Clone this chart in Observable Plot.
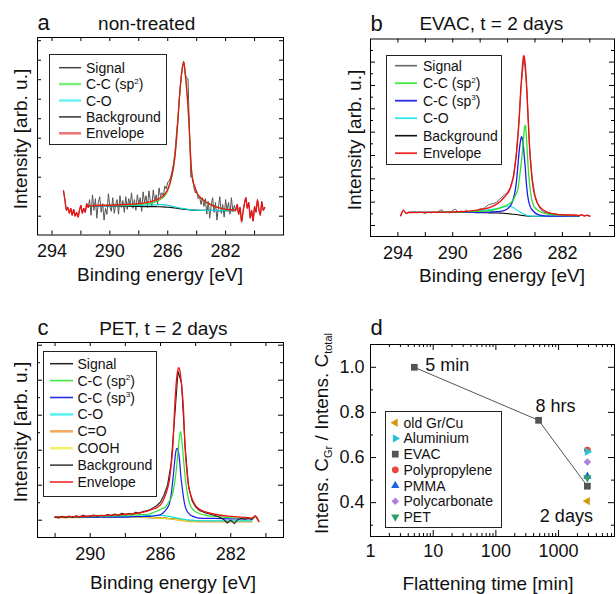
<!DOCTYPE html>
<html><head><meta charset="utf-8">
<script src="https://cdn.jsdelivr.net/npm/d3@7"></script>
<script src="https://cdn.jsdelivr.net/npm/@observablehq/plot@0.6"></script>
<style>
body{margin:0;background:#fff;}
#root{position:relative;width:616px;height:594px;overflow:hidden;background:#fff;}
#root svg{position:absolute;}
</style></head><body><div id="root"></div>
<script>
const FONT = '"Liberation Sans", Arial, Helvetica, sans-serif';

// ---------- Panel a: non-treated ----------
const sigA_start = 293.2, sigA_step = -0.1;
const sigA = [
 1.30,0.80,0.30,0.45,0.15,0.40,0.05,0.35,0.00,0.20,
 -0.05,0.30,0.55,0.15,0.40,0.20,0.65,0.45,0.85,0.05,
 1.10,0.30,0.90,-0.10,0.70,1.00,0.20,0.65,-0.20,0.40,
 0.10,1.15,0.50,0.25,0.95,0.15,0.60,0.85,0.10,1.05,
 0.45,0.80,0.20,1.00,0.35,0.90,0.55,1.20,0.40,0.85,
 0.30,1.10,0.60,0.95,0.25,1.25,0.70,1.05,0.45,1.30,
 0.80,0.50,1.35,0.75,1.10,0.60,1.45,1.00,1.20,1.05,
 1.55,1.40,1.75,1.80,2.00,2.30,2.70,3.30,4.20,5.00,
 6.00,6.90,7.60,7.95,7.30,7.10,7.05,4.40,2.00,2.10,
 1.50,1.20,1.30,0.90,1.00,0.60,0.95,0.50,0.90,0.10,
 0.75,-0.10,0.55,0.95,0.20,0.70,-0.20,0.45,1.00,0.15,
 0.60,-0.05,0.85,0.30,0.70,0.10,0.95,0.25,0.55,0.30,
 0.60,0.10,0.45,-0.30,0.20,0.65,0.95,0.40,0.70,-0.10,
 0.30,-0.25,0.50,0.20,0.85,0.35,0.05,0.75,0.30,0.45];
const fitA_E = [291.45,291,290,289,288,287.5,287,286.6,286.3,286,285.85,285.7,285.6,285.5,285.4,285.3,285.2,285.1,285.0,284.89,284.8,284.7,284.6,284.5,284.4,284.3,284.15,284.0,283.8,283.5,283.0,282.5,282.0,281.32];
const envA = [0.53,0.55,0.57,0.60,0.65,0.70,0.78,0.90,1.05,1.38,1.70,2.15,2.55,3.10,3.90,4.90,6.00,6.90,7.55,7.90,7.40,6.60,5.65,4.30,2.80,1.95,1.55,1.22,1.00,0.80,0.58,0.44,0.35,0.31];
const sp2A = [0.53,0.55,0.56,0.58,0.60,0.64,0.70,0.82,0.97,1.30,1.64,2.08,2.47,3.04,3.87,4.88,5.98,6.89,7.54,7.89,7.39,6.59,5.64,4.29,2.79,1.94,1.54,1.21,0.99,0.79,0.57,0.44,0.35,0.31];
const coA = [0.53,0.53,0.53,0.54,0.56,0.57,0.58,0.59,0.59,0.56,0.54,0.51,0.49,0.48,0.46,0.44,0.42,0.41,0.40,0.39,0.38,0.37,0.35,0.34,0.33,0.32,0.31,0.31,0.30,0.30,0.30,0.29,0.29,0.29];
const bgA = [0.53,0.53,0.52,0.51,0.50,0.495,0.49,0.485,0.475,0.46,0.45,0.44,0.43,0.42,0.41,0.40,0.39,0.38,0.37,0.36,0.35,0.345,0.34,0.33,0.32,0.315,0.31,0.305,0.30,0.30,0.295,0.29,0.29,0.29];
const xTicksA = [294,292,290,288,286,284,282,280];
const xLabelsA = [294,290,286,282];
const yTicksA = [0,1,2,3,4,5,6,7,8,9];

// ---------- Panel b: EVAC, 2 days ----------
const sigB_start = 293.8, sigB_step = -0.2;
const sigB = [
 0.42,0.66,0.52,0.58,0.55,0.60,0.54,0.58,0.55,0.52,
 0.57,0.54,0.58,0.55,0.62,0.68,0.55,0.60,0.53,0.66,
 0.70,0.57,0.62,0.58,0.66,0.55,0.62,0.64,0.66,0.72,
 0.70,0.80,0.88,0.92,0.95,1.00,1.12,1.22,1.33,1.42,
 1.62,2.05,2.85,4.20,6.05,7.25,5.90,3.40,2.00,1.30,
 0.92,0.70,0.58,0.55,0.52,0.50,0.52,0.48,0.46,0.45,
 0.47,0.44,0.46,0.42,0.45,0.40,0.46,0.41,0.44,0.40];
const fitB_E = [293.2,291,289.5,288.5,288,287.5,287.2,286.8,286.5,286.25,286.0,285.85,285.7,285.55,285.45,285.35,285.25,285.15,285.05,284.98,284.9,284.83,284.75,284.7,284.65,284.55,284.45,284.35,284.25,284.1,283.95,283.8,283.55,283.3,283.0,282.5,282.0,281.0,280.8];
const envB = [0.56,0.57,0.59,0.64,0.68,0.74,0.80,0.92,1.05,1.21,1.38,1.53,1.80,2.15,2.60,3.10,3.80,4.60,5.70,6.30,6.95,7.29,7.10,6.80,6.40,5.20,3.95,2.90,2.21,1.50,1.15,0.93,0.74,0.63,0.55,0.49,0.46,0.44,0.43];
const sp2B = [0.56,0.57,0.58,0.60,0.61,0.63,0.64,0.70,0.76,0.82,0.89,0.94,1.02,1.13,1.25,1.40,1.55,1.95,2.45,2.80,3.30,3.80,4.25,4.30,4.00,3.00,2.10,1.55,1.15,0.85,0.74,0.65,0.57,0.52,0.48,0.46,0.44,0.42,0.42];
const sp3B = [0.56,0.56,0.56,0.56,0.56,0.57,0.58,0.59,0.61,0.64,0.72,0.80,0.94,1.20,1.48,1.90,2.55,3.20,3.65,3.81,3.65,3.30,2.75,2.40,1.95,1.35,1.00,0.82,0.70,0.60,0.52,0.48,0.43,0.41,0.40,0.40,0.40,0.40,0.40];
const coB = [0.56,0.57,0.58,0.60,0.63,0.66,0.69,0.73,0.77,0.80,0.82,0.83,0.80,0.76,0.72,0.68,0.64,0.60,0.57,0.54,0.52,0.50,0.47,0.46,0.45,0.43,0.42,0.41,0.40,0.40,0.40,0.40,0.40,0.40,0.40,0.40,0.40,0.40,0.40];
const bgB = [0.56,0.56,0.56,0.555,0.55,0.545,0.54,0.535,0.53,0.52,0.51,0.50,0.49,0.48,0.475,0.47,0.46,0.45,0.44,0.435,0.43,0.425,0.42,0.415,0.41,0.405,0.40,0.40,0.40,0.40,0.40,0.40,0.40,0.40,0.40,0.40,0.40,0.40,0.40];
const xTicksB = [294,292,290,288,286,284,282,280];
const xLabelsB = [294,290,286,282];
const yMajorB = [0,1,2,3,4,5,6,7];
const yMinorB = [0.5,1.5,2.5,3.5,4.5,5.5,6.5,7.5];

// ---------- Panel c: PET, 2 days ----------
const sigC_start = 292.0, sigC_step = -0.2;
const sigC = [
 0.10,0.06,0.11,0.07,0.12,0.08,0.13,0.09,0.14,0.10,
 0.12,0.15,0.11,0.14,0.12,0.16,0.13,0.18,0.14,0.20,
 0.16,0.19,0.17,0.23,0.20,0.25,0.27,0.30,0.36,0.42,
 0.52,0.72,1.00,1.60,2.90,4.25,3.90,2.10,0.95,0.55,
 0.38,0.28,0.24,0.20,0.18,0.15,0.12,0.08,0.02,-0.08,
 0.00,-0.10,0.02,0.05,0.03,0.06,0.02,0.12,-0.04];
const fitC_E = [292.0,291,290,289,288.5,288,287.5,287.1,286.7,286.4,286.15,285.95,285.75,285.6,285.5,285.4,285.3,285.2,285.1,285.03,284.96,284.9,284.85,284.78,284.7,284.6,284.5,284.4,284.3,284.15,284.0,283.8,283.4,282.9,282.0,281.0,280.8];
const envC = [0.09,0.10,0.12,0.14,0.15,0.17,0.19,0.22,0.27,0.32,0.38,0.47,0.68,0.90,1.13,1.55,2.08,3.15,3.95,4.25,4.36,4.28,4.10,3.75,3.25,2.08,1.40,0.98,0.75,0.55,0.42,0.32,0.23,0.17,0.11,0.07,0.06];
const sp2C = [0.08,0.09,0.10,0.12,0.13,0.14,0.15,0.16,0.17,0.22,0.27,0.32,0.37,0.46,0.55,0.62,0.78,1.05,1.45,1.80,2.20,2.45,2.53,2.25,1.80,1.25,0.85,0.58,0.42,0.30,0.24,0.19,0.14,0.11,0.07,0.05,0.05];
const sp3C = [0.08,0.08,0.08,0.09,0.09,0.09,0.10,0.10,0.11,0.12,0.14,0.17,0.26,0.36,0.46,0.70,1.13,1.65,2.02,2.05,1.90,1.62,1.30,1.00,0.68,0.40,0.27,0.20,0.15,0.11,0.08,0.06,0.05,0.05,0.04,0.04,0.04];
const coC = [0.08,0.09,0.09,0.10,0.10,0.11,0.11,0.12,0.13,0.13,0.14,0.14,0.13,0.12,0.11,0.10,0.09,0.08,0.07,0.06,0.05,0.05,0.04,0.03,0.03,0.02,0.01,0.01,0.00,0.00,-0.01,-0.01,-0.02,-0.02,-0.02,-0.02,-0.02];
const cdoC = [0.07,0.07,0.08,0.08,0.09,0.09,0.09,0.08,0.08,0.07,0.06,0.06,0.05,0.04,0.04,0.03,0.02,0.02,0.01,0.01,0.00,0.00,-0.01,-0.01,-0.02,-0.02,-0.03,-0.03,-0.04,-0.04,-0.04,-0.05,-0.05,-0.05,-0.05,-0.05,-0.05];
const coohC = [0.07,0.08,0.09,0.10,0.10,0.09,0.08,0.08,0.07,0.07,0.06,0.06,0.05,0.05,0.04,0.04,0.03,0.03,0.02,0.02,0.01,0.01,0.01,0.00,0.00,-0.01,-0.01,-0.02,-0.02,-0.02,-0.03,-0.03,-0.03,-0.03,-0.03,-0.03,-0.03];
const bgC = [0.08,0.08,0.08,0.08,0.08,0.08,0.08,0.08,0.075,0.07,0.07,0.065,0.06,0.055,0.05,0.045,0.04,0.035,0.03,0.025,0.02,0.015,0.01,0.005,0.0,-0.005,-0.01,-0.015,-0.02,-0.02,-0.025,-0.03,-0.03,-0.03,-0.03,-0.03,-0.03];
const xTicksC = [292,290,288,286,284,282,280];
const xLabelsC = [290,286,282];
const yMajorC = [0,1,2,3,4,5];
const yMinorC = [0.5,1.5,2.5,3.5,4.5];

// ---------- Panel d: ratio vs flattening time ----------
const evacTime = [5, 480, 2880];
const evacRatio = [1.0, 0.765, 0.473];
const evacNotes = ["5 min", "8 hrs", "2 days"];
const matNames = ["old Gr/Cu","Aluminium","EVAC","Polypropylene","PMMA","Polycarbonate","PET"];
const matColors = ["#d49a0b","#22c4d6","#555555","#ee4440","#2066dd","#b07ee2","#2e9e6c"];
const matSymbols = ["triangle","triangle","square","circle","triangle","diamond2","triangle"];
const matRotate = [-90, 90, 0, 0, 0, 0, 180];
const matR = [3.1, 3.1, 3.8, 3.4, 3.1, 3.4, 3.1];
const matTime = [2880, 2880, 2880, 2880, 2880, 2880, 2880];
const matRatio = [0.407, 0.626, 0.473, 0.633, 0.517, 0.58, 0.511];
const drawOrder = [0, 3, 1, 5, 4, 6];
const xMajorD = [1, 10, 100, 1000];
const xMinorD = [2,3,4,5,6,7,8,9,20,30,40,50,60,70,80,90,200,300,400,500,600,700,800,900,2000,3000,4000,5000,6000,7000];
const yMajorD = [0.4, 0.6, 0.8, 1.0];
const yMinorD = [0.3, 0.5, 0.7, 0.9];

// ---------- helpers ----------
const zip = (xs, ys) => xs.map((x, i) => [x, ys[i]]);
const series = (start, step, vals) => vals.map((v, i) => [Math.round((start + step * i) * 100) / 100, v]);
const L = (pts, stroke, sw = 1.1, curve = "linear") =>
  Plot.line(pts, {x: d => d[0], y: d => d[1], stroke, strokeWidth: sw, curve});
function ticks(W, H, xs, ys, lx, ly) {
  return [
    Plot.tickX(xs, {x: d => d, insetTop: H - lx, stroke: "#000"}),
    Plot.tickX(xs, {x: d => d, insetBottom: H - lx, stroke: "#000"}),
    Plot.tickY(ys, {y: d => d, insetRight: W - ly, stroke: "#000"}),
    Plot.tickY(ys, {y: d => d, insetLeft: W - ly, stroke: "#000"})
  ];
}
const baseStyle = {fontFamily: FONT, fontSize: "18px", background: "transparent", overflow: "visible", color: "#111"};
const root = document.getElementById("root");
function put(svg, left, top) { svg.style.left = left + "px"; svg.style.top = top + "px"; root.appendChild(svg); }

// ---------- Panel a ----------
{
  const w = 308, h = 297, ml = 37, mr = 25, mt = 37, mb = 62.5;
  const W = w - ml - mr, H = h - mt - mb;
  const sig = series(sigA_start, sigA_step, sigA);
  const env = [...sig.slice(0, 18), ...zip(fitA_E, envA), ...sig.slice(119)];
  const p = Plot.plot({
    width: w, height: h, marginLeft: ml, marginRight: mr, marginTop: mt, marginBottom: mb,
    style: baseStyle,
    x: {domain: [295, 278]}, y: {domain: [-0.964, 9.164], axis: null},
    marks: [
      ...ticks(W, H, xTicksA, yTicksA, 4, 4),
      L(sig, "#555", 1),
      L(zip(fitA_E, bgA), "#111", 1.2, "monotone-x"),
      L(zip(fitA_E, coA), "#14d2d2", 1.2, "monotone-x"),
      L(zip(fitA_E, sp2A), "#33d633", 1.2, "monotone-x"),
      L(env, "#ee1111", 1.3, "monotone-x"),
      Plot.frame({stroke: "#000"}),
      Plot.axisX({ticks: xLabelsA, tickSize: 0, tickPadding: 9, tickFormat: d => String(d), label: null})
    ]
  });
  put(p, 0, 0);
}

// ---------- Panel b ----------
{
  const w = 308, h = 297, ml = 62, mr = 2, mt = 38.5, mb = 61;
  const W = w - ml - mr, H = h - mt - mb;
  const sig = series(sigB_start, sigB_step, sigB);
  const env = [...sig.slice(0, 3), ...zip(fitB_E, envB), ...sig.slice(66)];
  const p = Plot.plot({
    width: w, height: h, marginLeft: ml, marginRight: mr, marginTop: mt, marginBottom: mb,
    style: baseStyle,
    x: {domain: [296, 278.2]}, y: {domain: [-0.47, 7.99], axis: null},
    marks: [
      Plot.tickX(xTicksB, {x: d => d, insetTop: H - 4, stroke: "#000"}),
      Plot.tickX(xTicksB, {x: d => d, insetBottom: H - 4, stroke: "#000"}),
      Plot.tickY(yMajorB, {y: d => d, insetRight: W - 5, stroke: "#000"}),
      Plot.tickY(yMajorB, {y: d => d, insetLeft: W - 5, stroke: "#000"}),
      Plot.tickY(yMinorB, {y: d => d, insetRight: W - 3, stroke: "#000"}),
      Plot.tickY(yMinorB, {y: d => d, insetLeft: W - 3, stroke: "#000"}),
      L(sig, "#666", 1),
      L(zip(fitB_E, bgB), "#111", 1.1, "monotone-x"),
      L(zip(fitB_E, coB), "#18e0e0", 1.1, "monotone-x"),
      L(zip(fitB_E, sp3B), "#1a1aee", 1.3, "monotone-x"),
      L(zip(fitB_E, sp2B), "#2ee02e", 1.3, "monotone-x"),
      L(env, "#ee1111", 1.4, "monotone-x"),
      Plot.frame({stroke: "#000"}),
      Plot.axisX({ticks: xLabelsB, tickSize: 0, tickPadding: 10, tickFormat: d => String(d), label: null})
    ]
  });
  put(p, 308, 0);
}

// ---------- Panel c ----------
{
  const w = 308, h = 297, ml = 37, mr = 25, mt = 45, mb = 57;
  const W = w - ml - mr, H = h - mt - mb;
  const sig = series(sigC_start, sigC_step, sigC);
  const env = [...zip(fitC_E, envC), ...sig.slice(57)];
  const p = Plot.plot({
    width: w, height: h, marginLeft: ml, marginRight: mr, marginTop: mt, marginBottom: mb,
    style: baseStyle,
    x: {domain: [293, 279]}, y: {domain: [-0.494, 5.077], axis: null},
    marks: [
      Plot.tickX(xTicksC, {x: d => d, insetTop: H - 4, stroke: "#000"}),
      Plot.tickX(xTicksC, {x: d => d, insetBottom: H - 4, stroke: "#000"}),
      Plot.tickY(yMajorC, {y: d => d, insetRight: W - 5, stroke: "#000"}),
      Plot.tickY(yMajorC, {y: d => d, insetLeft: W - 5, stroke: "#000"}),
      Plot.tickY(yMinorC, {y: d => d, insetRight: W - 3, stroke: "#000"}),
      Plot.tickY(yMinorC, {y: d => d, insetLeft: W - 3, stroke: "#000"}),
      L(zip(fitC_E, bgC), "#111", 1.1, "monotone-x"),
      L(zip(fitC_E, cdoC), "#e89a3a", 1.2, "monotone-x"),
      L(zip(fitC_E, coohC), "#e8e030", 1.2, "monotone-x"),
      L(zip(fitC_E, coC), "#18e0e0", 1.2, "monotone-x"),
      L(zip(fitC_E, sp3C), "#1a1aee", 1.2, "monotone-x"),
      L(zip(fitC_E, sp2C), "#2ee02e", 1.2, "monotone-x"),
      L(sig, "#222", 1.1),
      L(env, "#ee1111", 1.3, "monotone-x"),
      Plot.frame({stroke: "#000"}),
      Plot.axisX({ticks: xLabelsC, tickSize: 0, tickPadding: 10, tickFormat: d => String(d), label: null})
    ]
  });
  put(p, 0, 297);
}

// ---------- Panel d ----------
{
  const w = 308, h = 297, ml = 62, mr = 2, mt = 47, mb = 58;
  const W = w - ml - mr, H = h - mt - mb;
  const evac = evacTime.map((t, i) => ({t, r: evacRatio[i], note: evacNotes[i]}));
  const dots = drawOrder.map(i => Plot.dot([{t: matTime[i], r: matRatio[i]}], {
    x: "t", y: "r", fill: matColors[i], symbol: matSymbols[i], rotate: matRotate[i], r: matR[i]
  }));
  const noteOffsets = [[11, -2, "start"], [17, -14, "middle"], [-21, 30, "middle"]];
  const notes = evac.map((d, i) => Plot.text([d], {
    x: "t", y: "r", text: "note", dx: noteOffsets[i][0], dy: noteOffsets[i][1],
    textAnchor: noteOffsets[i][2], fontSize: 18, fill: "#111"
  }));
  const p = Plot.plot({
    width: w, height: h, marginLeft: ml, marginRight: mr, marginTop: mt, marginBottom: mb,
    style: baseStyle,
    x: {type: "log", domain: [1, 7800]}, y: {domain: [0.25, 1.101]},
    marks: [
      Plot.tickX(xMajorD, {x: d => d, insetTop: H - 6, stroke: "#000"}),
      Plot.tickX(xMajorD, {x: d => d, insetBottom: H - 6, stroke: "#000"}),
      Plot.tickX(xMinorD, {x: d => d, insetTop: H - 3, stroke: "#000"}),
      Plot.tickX(xMinorD, {x: d => d, insetBottom: H - 3, stroke: "#000"}),
      Plot.tickY(yMajorD, {y: d => d, insetRight: W - 6, stroke: "#000"}),
      Plot.tickY(yMajorD, {y: d => d, insetLeft: W - 6, stroke: "#000"}),
      Plot.tickY(yMinorD, {y: d => d, insetRight: W - 3, stroke: "#000"}),
      Plot.tickY(yMinorD, {y: d => d, insetLeft: W - 3, stroke: "#000"}),
      Plot.line(evac, {x: "t", y: "r", stroke: "#555", strokeWidth: 1}),
      Plot.dot(evac, {x: "t", y: "r", fill: matColors[2], symbol: "square", r: matR[2]}),
      ...dots,
      ...notes,
      Plot.frame({stroke: "#000"}),
      Plot.axisX({ticks: xMajorD, tickSize: 0, tickPadding: 8, tickFormat: d => String(d), label: null}),
      Plot.axisY({ticks: yMajorD, tickSize: 0, tickPadding: 6, tickFormat: d => d.toFixed(1), label: null})
    ]
  });
  put(p, 308, 297);
}

// ---------- overlay: titles, axis labels, legends ----------
const ov = d3.create("svg").attr("width", 616).attr("height", 594)
  .style("left", "0px").style("top", "0px").style("font-family", FONT).style("pointer-events", "none");
root.appendChild(ov.node());

function rich(t, parts, size) {
  let cur = 0;
  parts.forEach(([s, k]) => {
    const target = k === "sup" ? -size * 0.38 : k === "sub" ? size * 0.25 : 0;
    const sp = t.append("tspan").text(s).attr("dy", target - cur);
    if (k !== "n") sp.attr("font-size", size * 0.58);
    cur = target;
  });
}
function label(x, y, parts, size, anchor = "middle", rotate = 0) {
  const t = ov.append("text").attr("font-size", size).attr("text-anchor", anchor).attr("fill", "#111");
  if (rotate) t.attr("transform", `translate(${x},${y}) rotate(${rotate})`);
  else t.attr("x", x).attr("y", y);
  if (typeof parts === "string") t.text(parts); else rich(t, parts, size);
}

// panel letters and titles
label(37.5, 29.5, "a", 22, "start");
label(146.7, 30, "non-treated", 19);
label(370.5, 30.5, "b", 22, "start");
label(491.3, 30, "EVAC, t = 2 days", 19);
label(37.5, 334.5, "c", 22, "start");
label(163.3, 334.5, "PET, t = 2 days", 19);
label(370.5, 334.5, "d", 22, "start");

// axis titles
label(160, 281, "Binding energy [eV]", 19);
label(502, 282, "Binding energy [eV]", 19);
label(173, 588.5, "Binding energy [eV]", 19);
label(488, 590, "Flattening time [min]", 19);
label(26.7, 139, "Intensity [arb. u.]", 19, "middle", -90);
label(361.3, 140, "Intensity [arb. u.]", 19, "middle", -90);
label(26.7, 432, "Intensity [arb. u.]", 19, "middle", -90);
label(327.6, 433.5, [["Intens. C", "n"], ["Gr", "sub"], [" / Intens. C", "n"], ["total", "sub"]], 19, "middle", -90);

// line legends
const sp2Label = [["C-C (sp", "n"], ["2", "sup"], [")", "n"]];
const sp3Label = [["C-C (sp", "n"], ["3", "sup"], [")", "n"]];
function lineLegend(box, rows, y0, dy, lx0, lx1, tx) {
  ov.append("rect").attr("x", box[0] + 0.5).attr("y", box[1] + 0.5).attr("width", box[2]).attr("height", box[3])
    .attr("fill", "#fff").attr("stroke", "#222").attr("stroke-width", 1);
  rows.forEach((r, i) => {
    const y = y0 + dy * i;
    ov.append("line").attr("x1", lx0).attr("x2", lx1).attr("y1", y).attr("y2", y)
      .attr("stroke", r.c).attr("stroke-width", r.w);
    label(tx, y + 5, r.t, 14, "start");
  });
}
lineLegend([49, 54, 117, 90], [
  {t: "Signal", c: "#444", w: 1.5},
  {t: sp2Label, c: "#7eee7e", w: 2.5},
  {t: "C-O", c: "#70f0f0", w: 2.5},
  {t: "Background", c: "#333", w: 1.5},
  {t: "Envelope", c: "#f07474", w: 2.5}
], 67.7, 16.4, 59, 81, 86);
lineLegend([386, 55, 115, 109], [
  {t: "Signal", c: "#666", w: 1.6},
  {t: sp2Label, c: "#44e844", w: 1.8},
  {t: sp3Label, c: "#2a2aee", w: 1.8},
  {t: "C-O", c: "#30e8e8", w: 1.8},
  {t: "Background", c: "#111", w: 1.6},
  {t: "Envelope", c: "#ee2a2a", w: 1.8}
], 65.7, 17.5, 395, 417, 423);
lineLegend([43, 351, 113, 145], [
  {t: "Signal", c: "#222", w: 1.5},
  {t: sp2Label, c: "#3ee83e", w: 1.6},
  {t: sp3Label, c: "#2a2aee", w: 1.6},
  {t: "C-O", c: "#5cf0f0", w: 2.6},
  {t: "C=O", c: "#f3aa62", w: 2.6},
  {t: "COOH", c: "#f4f06a", w: 2.6},
  {t: "Background", c: "#333", w: 1.5},
  {t: "Envelope", c: "#ee2a2a", w: 1.6}
], 363.7, 16.9, 50, 73, 77.5);

// symbol legend (panel d)
{
  ov.append("rect").attr("x", 385.5).attr("y", 411.5).attr("width", 116).attr("height", 116)
    .attr("fill", "#fff").attr("stroke", "#222").attr("stroke-width", 1);
  const symMap = {triangle: d3.symbolTriangle, square: d3.symbolSquare, circle: d3.symbolCircle, diamond2: d3.symbolDiamond2};
  matNames.forEach((name, i) => {
    const y = 422.7 + 15.72 * i;
    ov.append("path")
      .attr("d", d3.symbol(symMap[matSymbols[i]], Math.PI * matR[i] * matR[i])())
      .attr("transform", `translate(395.3,${y}) rotate(${matRotate[i]})`)
      .attr("fill", matColors[i]);
    label(403.5, y + 5, name, 14, "start");
  });
}
</script></body></html>
